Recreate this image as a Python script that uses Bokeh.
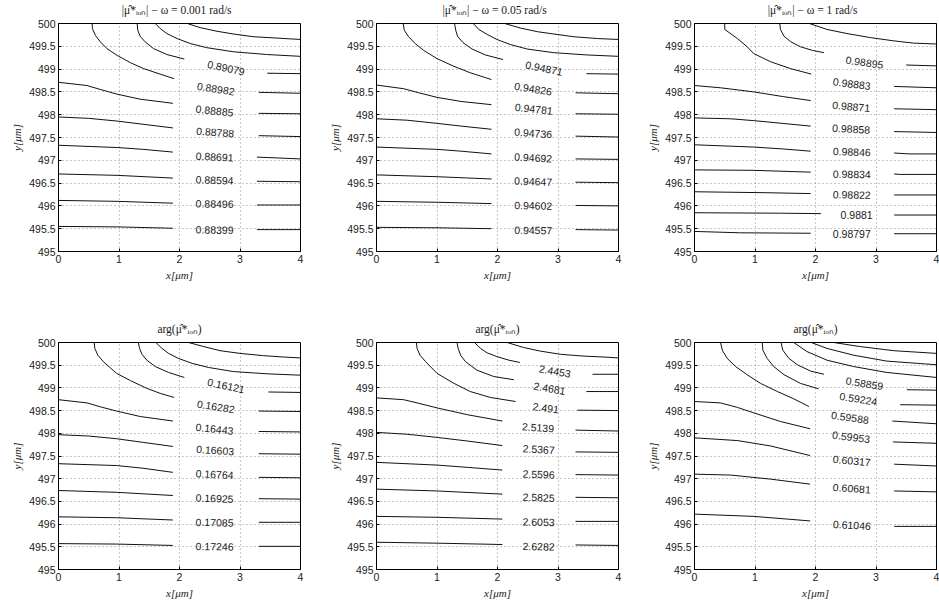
from bokeh.plotting import figure
from bokeh.layouts import column, row
from bokeh.models import Range1d, FixedTicker, NumeralTickFormatter, ColumnDataSource, LinearAxis
from bokeh.core.properties import value
from bokeh.embed import file_html
from bokeh.resources import INLINE

# ---------------- data ----------------
X_TICKS = [0, 1, 2, 3, 4]
Y_TICKS = [495, 495.5, 496, 496.5, 497, 497.5, 498, 498.5, 499, 499.5, 500]
X_LABEL = "x[μm]"
Y_LABEL = "y[μm]"

TITLES = [
    "|μ̂*ᵢₒₙ|  −  ω = 0.001 rad/s",
    "|μ̂*ᵢₒₙ|  −  ω = 0.05 rad/s",
    "|μ̂*ᵢₒₙ|  −  ω = 1 rad/s",
    "arg(μ̂*ᵢₒₙ)",
    "arg(μ̂*ᵢₒₙ)",
    "arg(μ̂*ᵢₒₙ)",
]

# Panel 1: |mu| omega = 0.001   (contour pieces)
P1_LINES_X = [
    [2.13, 2.34, 2.62, 2.89, 3.22, 3.61, 4.0],
    [1.60, 1.68, 1.79, 1.96, 2.18, 2.45, 2.89, 3.44, 4.0],
    [1.30, 1.31, 1.35, 1.43, 1.57, 1.79, 2.08], [3.45, 4.0],
    [0.557, 0.56, 0.61, 0.69, 0.80, 0.97, 1.19, 1.41, 1.68, 1.91], [3.31, 4.0],
    [0, 0.47, 0.70, 0.97, 1.35, 1.89], [3.31, 4.0],
    [0, 0.5, 0.97, 1.4, 1.89], [3.31, 4.0],
    [0, 0.97, 1.4, 1.89], [3.28, 4.0],
    [0, 0.97, 1.89], [3.28, 4.0],
    [0, 0.97, 1.89], [3.28, 4.0],
    [0, 0.97, 1.89], [3.28, 4.0],
]
P1_LINES_Y = [
    [500.0, 499.91, 499.83, 499.77, 499.71, 499.68, 499.65],
    [500.0, 499.89, 499.78, 499.67, 499.56, 499.47, 499.38, 499.32, 499.28],
    [500.0, 499.85, 499.72, 499.60, 499.45, 499.32, 499.22], [498.91, 498.90],
    [500.0, 499.89, 499.74, 499.60, 499.45, 499.30, 499.14, 499.01, 498.89, 498.79], [498.49, 498.47],
    [498.71, 498.64, 498.55, 498.45, 498.34, 498.25], [498.03, 498.02],
    [497.95, 497.92, 497.86, 497.79, 497.71], [497.54, 497.52],
    [497.33, 497.28, 497.24, 497.18], [497.07, 497.03],
    [496.70, 496.67, 496.61], [496.54, 496.53],
    [496.12, 496.10, 496.06], [496.02, 496.02],
    [495.55, 495.54, 495.51], [495.48, 495.48],
]
P1_LABELS = ["0.89079", "0.88982", "0.88885", "0.88788", "0.88691", "0.88594", "0.88496", "0.88399"]
P1_LABEL_X = [2.77, 2.60, 2.58, 2.59, 2.58, 2.58, 2.58, 2.58]
P1_LABEL_Y = [499.03, 498.57, 498.09, 497.62, 497.08, 496.57, 496.05, 495.48]
P1_LABEL_ANGLE = [-12, -9, -6, -4, -3, -2, -1, -1]

# Panel 2: |mu| omega = 0.05
P2_LINES_X = [
    [2.12, 2.38, 2.66, 2.93, 3.26, 3.65, 4.0],
    [1.60, 1.69, 1.83, 1.99, 2.21, 2.49, 2.93, 3.48, 4.0],
    [1.29, 1.31, 1.34, 1.43, 1.58, 1.80, 2.09], [3.47, 4.0],
    [0.44, 0.46, 0.53, 0.64, 0.78, 1.0, 1.28, 1.55, 1.90], [3.29, 4.0],
    [0, 0.45, 0.70, 1.0, 1.40, 1.90], [3.29, 4.0],
    [0, 0.5, 1.0, 1.4, 1.90], [3.29, 4.0],
    [0, 1.0, 1.4, 1.90], [3.29, 4.0],
    [0, 1.0, 1.90], [3.29, 4.0],
    [0, 1.0, 1.90], [3.29, 4.0],
    [0, 1.0, 1.90], [3.29, 4.0],
]
P2_LINES_Y = [
    [500.0, 499.90, 499.82, 499.77, 499.71, 499.67, 499.65],
    [500.0, 499.87, 499.76, 499.65, 499.54, 499.44, 499.36, 499.31, 499.28],
    [500.0, 499.85, 499.72, 499.58, 499.44, 499.31, 499.21], [498.90, 498.89],
    [500.0, 499.85, 499.71, 499.56, 499.41, 499.23, 499.06, 498.92, 498.77], [498.48, 498.46],
    [498.65, 498.57, 498.48, 498.38, 498.29, 498.22], [498.02, 498.01],
    [497.91, 497.88, 497.81, 497.75, 497.68], [497.53, 497.51],
    [497.29, 497.24, 497.20, 497.14], [497.03, 497.02],
    [496.68, 496.64, 496.59], [496.52, 496.51],
    [496.10, 496.08, 496.05], [496.01, 496.00],
    [495.53, 495.52, 495.50], [495.48, 495.47],
]
P2_LABELS = ["0.94871", "0.94826", "0.94781", "0.94736", "0.94692", "0.94647", "0.94602", "0.94557"]
P2_LABEL_X = [2.77, 2.59, 2.60, 2.59, 2.59, 2.59, 2.59, 2.59]
P2_LABEL_Y = [499.02, 498.57, 498.13, 497.60, 497.06, 496.54, 496.01, 495.47]
P2_LABEL_ANGLE = [-12, -9, -6, -4, -3, -2, -1, -1]

# Panel 3: |mu| omega = 1
P3_LINES_X = [
    [1.90, 2.19, 2.52, 2.91, 3.29, 3.62, 4.0],
    [1.41, 1.42, 1.48, 1.59, 1.75, 1.95, 2.14], [3.50, 4.0],
    [0.50, 0.50, 0.71, 0.87, 0.98, 1.26, 1.59, 1.93], [3.30, 4.0],
    [0, 0.43, 0.98, 1.45, 1.92], [3.30, 4.0],
    [0, 0.6, 0.98, 1.45, 1.92], [3.30, 4.0],
    [0, 0.98, 1.45, 1.92], [3.30, 3.55, 4.0],
    [0, 0.98, 1.92], [3.30, 3.40, 4.0],
    [0, 1.15, 1.92], [3.30, 4.0],
    [0, 1.42, 2.09], [3.30, 4.0],
    [0, 0.76, 1.92], [3.30, 4.0],
]
P3_LINES_Y = [
    [500.0, 499.87, 499.78, 499.69, 499.62, 499.57, 499.55],
    [500.0, 499.87, 499.72, 499.60, 499.49, 499.41, 499.36], [499.09, 499.07],
    [500.0, 499.87, 499.67, 499.49, 499.34, 499.16, 499.01, 498.89], [498.62, 498.59],
    [498.64, 498.59, 498.50, 498.40, 498.31], [498.13, 498.11],
    [497.93, 497.91, 497.87, 497.81, 497.75], [497.63, 497.61],
    [497.34, 497.29, 497.25, 497.20], [497.16, 497.14, 497.14],
    [496.79, 496.78, 496.74], [496.70, 496.69, 496.69],
    [496.31, 496.29, 496.27], [496.24, 496.24],
    [495.85, 495.84, 495.83], [495.80, 495.80],
    [495.44, 495.41, 495.40], [495.39, 495.39],
]
P3_LABELS = ["0.98895", "0.98883", "0.98871", "0.98858", "0.98846", "0.98834", "0.98822", "0.9881", "0.98797"]
P3_LABEL_X = [2.81, 2.60, 2.59, 2.59, 2.60, 2.60, 2.60, 2.68, 2.60]
P3_LABEL_Y = [499.15, 498.68, 498.18, 497.69, 497.19, 496.70, 496.25, 495.80, 495.39]
P3_LABEL_ANGLE = [-8, -7, -5, -3, -2, -1, -1, 0, 0]

# Panel 4: arg, omega = 0.001
P4_LINES_X = [
    [2.15, 2.40, 2.67, 3.0, 3.39, 3.72, 4.0],
    [1.61, 1.71, 1.82, 1.98, 2.21, 2.48, 2.89, 3.45, 4.0],
    [1.32, 1.34, 1.38, 1.46, 1.60, 1.82, 2.08], [3.47, 4.0],
    [0.59, 0.60, 0.65, 0.74, 0.85, 0.96, 1.19, 1.46, 1.68, 1.91], [3.31, 4.0],
    [0, 0.47, 0.70, 0.96, 1.35, 1.89], [3.31, 4.0],
    [0, 0.5, 0.96, 1.4, 1.89], [3.31, 4.0],
    [0, 0.96, 1.4, 1.89], [3.31, 4.0],
    [0, 0.96, 1.89], [3.31, 4.0],
    [0, 0.96, 1.89], [3.31, 4.0],
    [0, 0.96, 1.89], [3.31, 4.0],
]
P4_LINES_Y = [
    [500.0, 499.91, 499.82, 499.76, 499.71, 499.68, 499.66],
    [500.0, 499.87, 499.76, 499.65, 499.54, 499.45, 499.36, 499.31, 499.28],
    [500.0, 499.87, 499.74, 499.61, 499.47, 499.34, 499.23], [498.91, 498.90],
    [500.0, 499.87, 499.72, 499.58, 499.45, 499.32, 499.16, 498.99, 498.88, 498.79], [498.49, 498.48],
    [498.74, 498.67, 498.58, 498.49, 498.37, 498.27], [498.04, 498.03],
    [497.97, 497.94, 497.88, 497.80, 497.71], [497.55, 497.54],
    [497.33, 497.29, 497.23, 497.14], [497.03, 497.02],
    [496.74, 496.70, 496.63], [496.56, 496.55],
    [496.16, 496.14, 496.09], [496.04, 496.04],
    [495.57, 495.56, 495.53], [495.51, 495.51],
]
P4_LABELS = ["0.16121", "0.16282", "0.16443", "0.16603", "0.16764", "0.16925", "0.17085", "0.17246"]
P4_LABEL_X = [2.77, 2.60, 2.58, 2.59, 2.58, 2.58, 2.58, 2.58]
P4_LABEL_Y = [499.05, 498.59, 498.10, 497.63, 497.10, 496.57, 496.04, 495.51]
P4_LABEL_ANGLE = [-12, -9, -6, -4, -3, -2, -1, -1]

# Panel 5: arg, omega = 0.05
P5_LINES_X = [
    [2.16, 2.43, 2.71, 3.04, 3.43, 3.76, 4.0],
    [1.62, 1.72, 1.83, 1.99, 2.19, 2.37], [3.57, 4.0],
    [1.33, 1.35, 1.39, 1.47, 1.66, 1.94, 2.27], [3.47, 4.0],
    [0.66, 0.67, 0.72, 0.81, 1.0, 1.28, 1.55, 1.88, 2.30], [3.32, 4.0],
    [0, 0.45, 0.70, 1.0, 1.50, 2.08], [3.29, 4.0],
    [0, 0.5, 1.0, 1.5, 2.08], [3.29, 4.0],
    [0, 1.0, 1.5, 2.08], [3.29, 4.0],
    [0, 1.0, 2.08], [3.29, 4.0],
    [0, 1.0, 2.08], [3.29, 4.0],
    [0, 1.0, 2.08], [3.29, 4.0],
]
P5_LINES_Y = [
    [500.0, 499.89, 499.81, 499.74, 499.70, 499.68, 499.66],
    [500.0, 499.87, 499.77, 499.69, 499.61, 499.56], [499.30, 499.30],
    [500.0, 499.87, 499.72, 499.58, 499.39, 499.25, 499.18], [498.92, 498.92],
    [500.0, 499.87, 499.72, 499.58, 499.32, 499.10, 498.92, 498.79, 498.70], [498.51, 498.50],
    [498.78, 498.74, 498.66, 498.56, 498.41, 498.27], [498.07, 498.05],
    [498.02, 497.98, 497.91, 497.83, 497.73], [497.59, 497.58],
    [497.36, 497.30, 497.25, 497.19], [497.09, 497.08],
    [496.77, 496.73, 496.66], [496.59, 496.58],
    [496.17, 496.15, 496.11], [496.06, 496.06],
    [495.60, 495.58, 495.55], [495.54, 495.53],
]
P5_LABELS = ["2.4453", "2.4681", "2.491", "2.5139", "2.5367", "2.5596", "2.5825", "2.6053", "2.6282"]
P5_LABEL_X = [2.95, 2.86, 2.80, 2.67, 2.68, 2.68, 2.68, 2.68, 2.68]
P5_LABEL_Y = [499.37, 498.99, 498.56, 498.13, 497.65, 497.10, 496.59, 496.05, 495.51]
P5_LABEL_ANGLE = [-10, -10, -8, -4, -3, -2, -2, -1, -1]

# Panel 6: arg, omega = 1
P6_LINES_X = [
    [2.30, 2.74, 3.29, 4.0],
    [1.93, 2.19, 2.63, 3.18, 4.0],
    [1.64, 1.86, 2.19, 2.63, 3.18, 4.0],
    [1.43, 1.46, 1.56, 1.70, 1.92, 2.14], [3.51, 4.0],
    [1.12, 1.13, 1.20, 1.31, 1.48, 1.75, 2.05], [3.40, 4.0],
    [0.43, 0.46, 0.54, 0.68, 0.87, 1.09, 1.37, 1.64, 1.89], [3.27, 4.0],
    [0, 0.43, 0.71, 0.98, 1.42, 1.91], [3.28, 4.0],
    [0, 0.71, 1.26, 1.91], [3.30, 4.0],
    [0, 0.6, 1.26, 1.91], [3.30, 4.0],
    [0, 0.98, 1.91], [3.30, 4.0],
]
P6_LINES_Y = [
    [500.0, 499.91, 499.82, 499.76],
    [500.0, 499.87, 499.72, 499.59, 499.51],
    [500.0, 499.80, 499.61, 499.47, 499.34, 499.23],
    [500.0, 499.83, 499.65, 499.51, 499.37, 499.30], [498.96, 498.95],
    [500.0, 499.83, 499.65, 499.47, 499.29, 499.10, 498.98], [498.63, 498.62],
    [500.0, 499.83, 499.65, 499.47, 499.29, 499.10, 498.92, 498.76, 498.59], [498.27, 498.21],
    [498.70, 498.67, 498.57, 498.45, 498.26, 498.10], [497.81, 497.78],
    [497.90, 497.84, 497.72, 497.51], [497.32, 497.28],
    [497.10, 497.08, 496.99, 496.88], [496.73, 496.71],
    [496.22, 496.17, 496.07], [495.95, 495.95],
]
P6_LABELS = ["0.58859", "0.59224", "0.59588", "0.59953", "0.60317", "0.60681", "0.61046"]
P6_LABEL_X = [2.81, 2.71, 2.57, 2.59, 2.60, 2.60, 2.60]
P6_LABEL_Y = [499.10, 498.76, 498.35, 497.92, 497.40, 496.79, 495.98]
P6_LABEL_ANGLE = [-9, -9, -8, -7, -5, -4, -3]

PANELS = [
    (P1_LINES_X, P1_LINES_Y, P1_LABELS, P1_LABEL_X, P1_LABEL_Y, P1_LABEL_ANGLE),
    (P2_LINES_X, P2_LINES_Y, P2_LABELS, P2_LABEL_X, P2_LABEL_Y, P2_LABEL_ANGLE),
    (P3_LINES_X, P3_LINES_Y, P3_LABELS, P3_LABEL_X, P3_LABEL_Y, P3_LABEL_ANGLE),
    (P4_LINES_X, P4_LINES_Y, P4_LABELS, P4_LABEL_X, P4_LABEL_Y, P4_LABEL_ANGLE),
    (P5_LINES_X, P5_LINES_Y, P5_LABELS, P5_LABEL_X, P5_LABEL_Y, P5_LABEL_ANGLE),
    (P6_LINES_X, P6_LINES_Y, P6_LABELS, P6_LABEL_X, P6_LABEL_Y, P6_LABEL_ANGLE),
]

# ---------------- layout ----------------
COL_W = [326, 318, 295]
BORDER_LEFT = [58, 50, 50]
BORDER_RIGHT = [26, 26, 3]
ROW_H = [319, 286]
BORDER_TOP = [23, 22]
BORDER_BOTTOM = [68, 36]

SANS = "Liberation Sans"
SERIF = "Liberation Serif"
INK = "#1a1a1a"


def make_panel(i):
    r, c = divmod(i, 3)
    lx, ly, labels, tx, ty, ta = PANELS[i]
    p = figure(width=COL_W[c], height=ROW_H[r],
               x_range=Range1d(0, 4), y_range=Range1d(495, 500),
               output_backend="svg", toolbar_location=None, title=None,
               min_border_left=BORDER_LEFT[c], min_border_right=BORDER_RIGHT[c],
               min_border_top=BORDER_TOP[r], min_border_bottom=BORDER_BOTTOM[r])
    p.background_fill_color = "white"
    p.border_fill_color = "white"
    p.outline_line_color = "black"
    p.outline_line_width = 1
    p.outline_line_alpha = 1

    xax = p.below[0]
    yax = p.left[0]
    for ax, ticks in ((xax, X_TICKS), (yax, Y_TICKS)):
        ax.ticker = FixedTicker(ticks=ticks)
        ax.formatter = NumeralTickFormatter(format="0.[0]")
        ax.major_tick_in = 3
        ax.major_tick_out = 0
        ax.minor_tick_line_color = None
        ax.axis_line_color = "black"
        ax.major_tick_line_color = "black"
        ax.major_label_text_font = SANS
        ax.major_label_text_font_size = "10.5px"
        ax.major_label_text_color = INK
        ax.major_label_standoff = 3
        ax.axis_label_text_font = SERIF
        ax.axis_label_text_font_style = "italic"
        ax.axis_label_text_font_size = "11px"
        ax.axis_label_text_color = INK
        ax.axis_label_standoff = 3
    xax.axis_label = X_LABEL
    yax.axis_label = Y_LABEL

    for g, ticks in ((p.xgrid[0], X_TICKS), (p.ygrid[0], Y_TICKS)):
        g.ticker = FixedTicker(ticks=ticks)
        g.grid_line_color = "#8c8c8c"
        g.grid_line_dash = "1 3"
        g.grid_line_width = 1

    # panel title, carried by a bare axis above the frame
    top = LinearAxis(ticker=FixedTicker(ticks=[]), axis_label=TITLES[i],
                     axis_line_color=None, major_tick_line_color=None,
                     major_tick_in=0, major_tick_out=0,
                     minor_tick_line_color=None, minor_tick_in=0, minor_tick_out=0,
                     major_label_text_font_size="0px",
                     major_label_standoff=0, axis_label_standoff=8,
                     axis_label_text_font=SERIF, axis_label_text_font_size="11.5px",
                     axis_label_text_font_style="normal", axis_label_text_color=INK)
    p.add_layout(top, "above")

    p.multi_line(xs=lx, ys=ly, line_color="#111111", line_width=1)

    src = ColumnDataSource(dict(x=tx, y=ty, text=labels, angle=ta))
    p.text(x="x", y="y", text="text", angle="angle", angle_units="deg", source=src,
           text_font=value(SANS), text_font_size="10.5px", text_color=INK,
           text_align="center", text_baseline="middle")
    return p


plots = [make_panel(i) for i in range(6)]
layout = column(row(*plots[:3]), row(*plots[3:]))

open("out.html", "w").write(file_html(layout, INLINE))
